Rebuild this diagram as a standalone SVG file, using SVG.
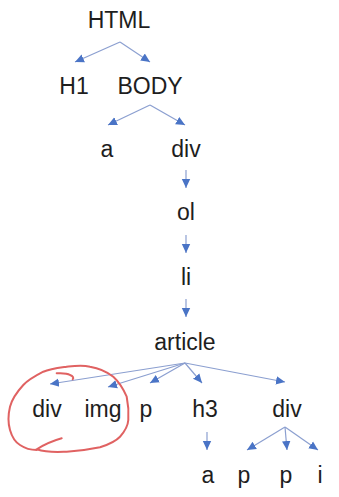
<svg xmlns="http://www.w3.org/2000/svg" width="339" height="497" viewBox="0 0 339 497">
<style>
text{font-family:"Liberation Sans",Arial,sans-serif;font-size:23px;fill:#1e1e1e;text-anchor:middle}
.e{stroke:#8b9fd0;stroke-width:1.2;fill:none;marker-end:url(#ah)}
</style>
<defs>
<marker id="ah" markerUnits="userSpaceOnUse" markerWidth="10" markerHeight="10" viewBox="0 0 10 10" refX="9" refY="5" orient="auto">
<path d="M0,0.8 L9,5 L0,9.2 Z" fill="#4a74c6"/>
</marker>
</defs>
<rect width="339" height="497" fill="#fff"/>
<g id="connectors">
<path class="e" d="M120,42 L75,62"/>
<path class="e" d="M120,42 L150,62"/>
<path class="e" d="M150,105 L108,125"/>
<path class="e" d="M150,105 L185,125"/>
<path class="e" d="M186,170 L186,188"/>
<path class="e" d="M186,235 L186,253"/>
<path class="e" d="M186,299 L186,317"/>
<path class="e" d="M185,363 L50,384"/>
<path class="e" d="M185,363 L108,387"/>
<path class="e" d="M185,363 L150,383"/>
<path class="e" d="M185,363 L202,383"/>
<path class="e" d="M185,363 L285,382"/>
<path class="e" d="M207,432 L207,450"/>
<path class="e" d="M285,427 L247,450"/>
<path class="e" d="M285,427 L287,450"/>
<path class="e" d="M285,427 L318,450"/>
</g>
<g id="n-html"><text x="119" y="28">HTML</text></g>
<g id="n-h1"><text x="74" y="94">H1</text></g>
<g id="n-body"><text x="150" y="94">BODY</text></g>
<g id="n-a1"><text x="107" y="157">a</text></g>
<g id="n-div1"><text x="186" y="157">div</text></g>
<g id="n-ol"><text x="186" y="220">ol</text></g>
<g id="n-li"><text x="186" y="285">li</text></g>
<g id="n-article"><text x="185" y="350">article</text></g>
<g id="n-div2"><text x="47" y="417">div</text></g>
<g id="n-img"><text x="103" y="417">img</text></g>
<g id="n-p1"><text x="146" y="417">p</text></g>
<g id="n-h3"><text x="205" y="417">h3</text></g>
<g id="n-div3"><text x="287" y="417">div</text></g>
<g id="n-a2"><text x="208" y="483">a</text></g>
<g id="n-p2"><text x="244" y="483">p</text></g>
<g id="n-p3"><text x="286" y="483">p</text></g>
<g id="n-i"><text x="320" y="483">i</text></g>
<g id="circle">
<path d="M61.7,438.3 C52,441 42,446 36.7,449.3 C48,453 58,452 66.7,451.7 C80,451 92,449 100,447.3 C110,444 116,441 120,436.7 C126,430 128,425 128.3,420 C129,410 128,403 126.7,396.7 C123,388 118,381 113.3,376.7 C106,371 98,368 90,366.7 C82,365 74,366 66.7,366.7 C58,368 50,369 43.3,371.7 C35,376 28,380 23.3,385 C16,393 12,399 10,406.7 C8,415 8,423 10,430 C12,437 15,442 20,445 C26,449 31,450 36.7,450" fill="none" stroke="#e06262" stroke-width="2" stroke-linecap="round"/>
<path d="M56.7,373.3 C62,373 67,373 70,375 C73,376 74,378 72.7,379.3" fill="none" stroke="#e06262" stroke-width="2" stroke-linecap="round"/>
</g>
</svg>
